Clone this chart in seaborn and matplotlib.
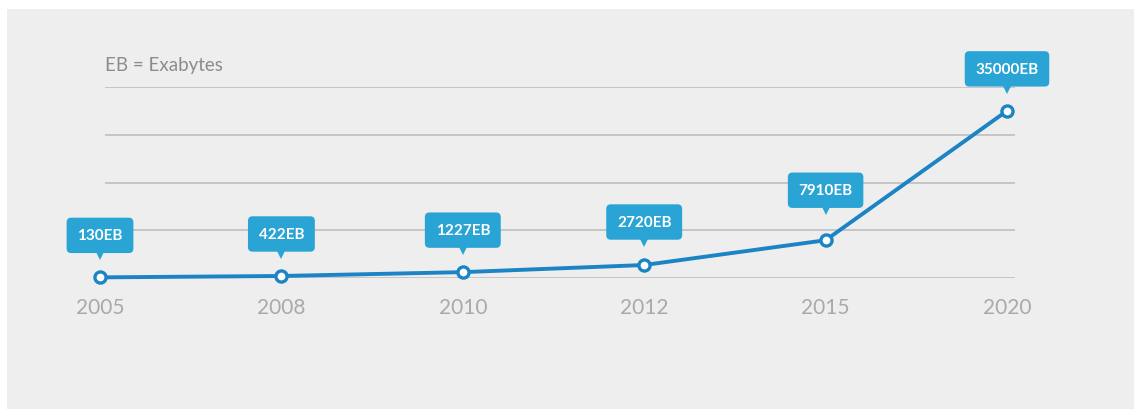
import matplotlib
matplotlib.use("Agg")
import matplotlib.pyplot as plt
import matplotlib.transforms as mtransforms
from matplotlib.patches import Rectangle
import seaborn as sns
import pandas as pd

years = ["2005", "2008", "2010", "2012", "2015", "2020"]
values = [130, 422, 1227, 2720, 7910, 35000]
labels = ["130EB", "422EB", "1227EB", "2720EB", "7910EB", "35000EB"]
note = "EB = Exabytes"

sns.set_theme(style="white")
plt.rcParams["font.family"] = ["Lato", "DejaVu Sans"]

W, H = 1134, 410
fig = plt.figure(figsize=(W / 100, H / 100), dpi=100, facecolor="white")
fig.patches.append(Rectangle((7 / W, 0), 1 - 7 / W, 1 - 10 / H, transform=fig.transFigure,
                             facecolor="#eeeeee", edgecolor="none", zorder=-10))

# axes: x index 0 at px 100, 5 at px 1007; y 0 at px 279, 40000 at px 88
x0px, x5px = 100, 1007
unit = (x5px - x0px) / 5
left_px, right_px = 60, 1060
xl = (left_px - x0px) / unit
xr = 5 + (right_px - x5px) / unit
ax = fig.add_axes([left_px / W, (H - 279) / H, (right_px - left_px) / W, (279 - 88) / H])
ax.set_facecolor("none")
ax.set_xlim(xl, xr)
ax.set_ylim(0, 40000)

df = pd.DataFrame({"idx": range(len(years)), "value": values})

# gridlines
g0 = (105 - x0px) / unit
g1 = 5 + (1015 - x5px) / unit
ax.hlines([0, 10000, 20000, 30000, 40000], g0, g1, colors="#c2c2c2", linewidth=1.3, zorder=1)

sns.lineplot(data=df, x="idx", y="value", ax=ax, color="#1b84c4", linewidth=2.8,
             marker="o", markersize=8, markerfacecolor="white", markeredgecolor="#1b84c4",
             markeredgewidth=2.4, zorder=3, clip_on=False)

box_color = "#2aa4d5"
offsets_px = [42, 42, 42, 43, 50, 42]
for i, (v, lab) in enumerate(zip(values, labels)):
    off = offsets_px[i] * 72 / 100
    ax.annotate(lab, xy=(i, v), xytext=(0, off), textcoords="offset points",
                ha="center", va="center", color="white", fontsize=11, fontweight="bold",
                bbox=dict(boxstyle="round,pad=0.7,rounding_size=0.3", fc=box_color, ec="none"),
                zorder=5, annotation_clip=False)
    tr = mtransforms.offset_copy(ax.transData, fig=fig, x=0, y=(offsets_px[i] - 20) * 72 / 100,
                                 units="points")
    ax.plot([i], [v], marker="v", markersize=6.5, color=box_color, transform=tr,
            clip_on=False, zorder=4, markeredgewidth=0)

ax.text(105 / W, (H - 65) / H, note, transform=fig.transFigure, fontsize=13.5,
        color="#8c8c8c", ha="left", va="center")

ax.set_xticks(range(len(years)))
ax.set_xticklabels(years, fontsize=15, color="#a9a9a9")
ax.set_yticks([])
ax.tick_params(axis="x", length=0, pad=14)
ax.set_xlabel("")
ax.set_ylabel("")
for s in ax.spines.values():
    s.set_visible(False)

fig.savefig("out.png", dpi=100, facecolor="white")
